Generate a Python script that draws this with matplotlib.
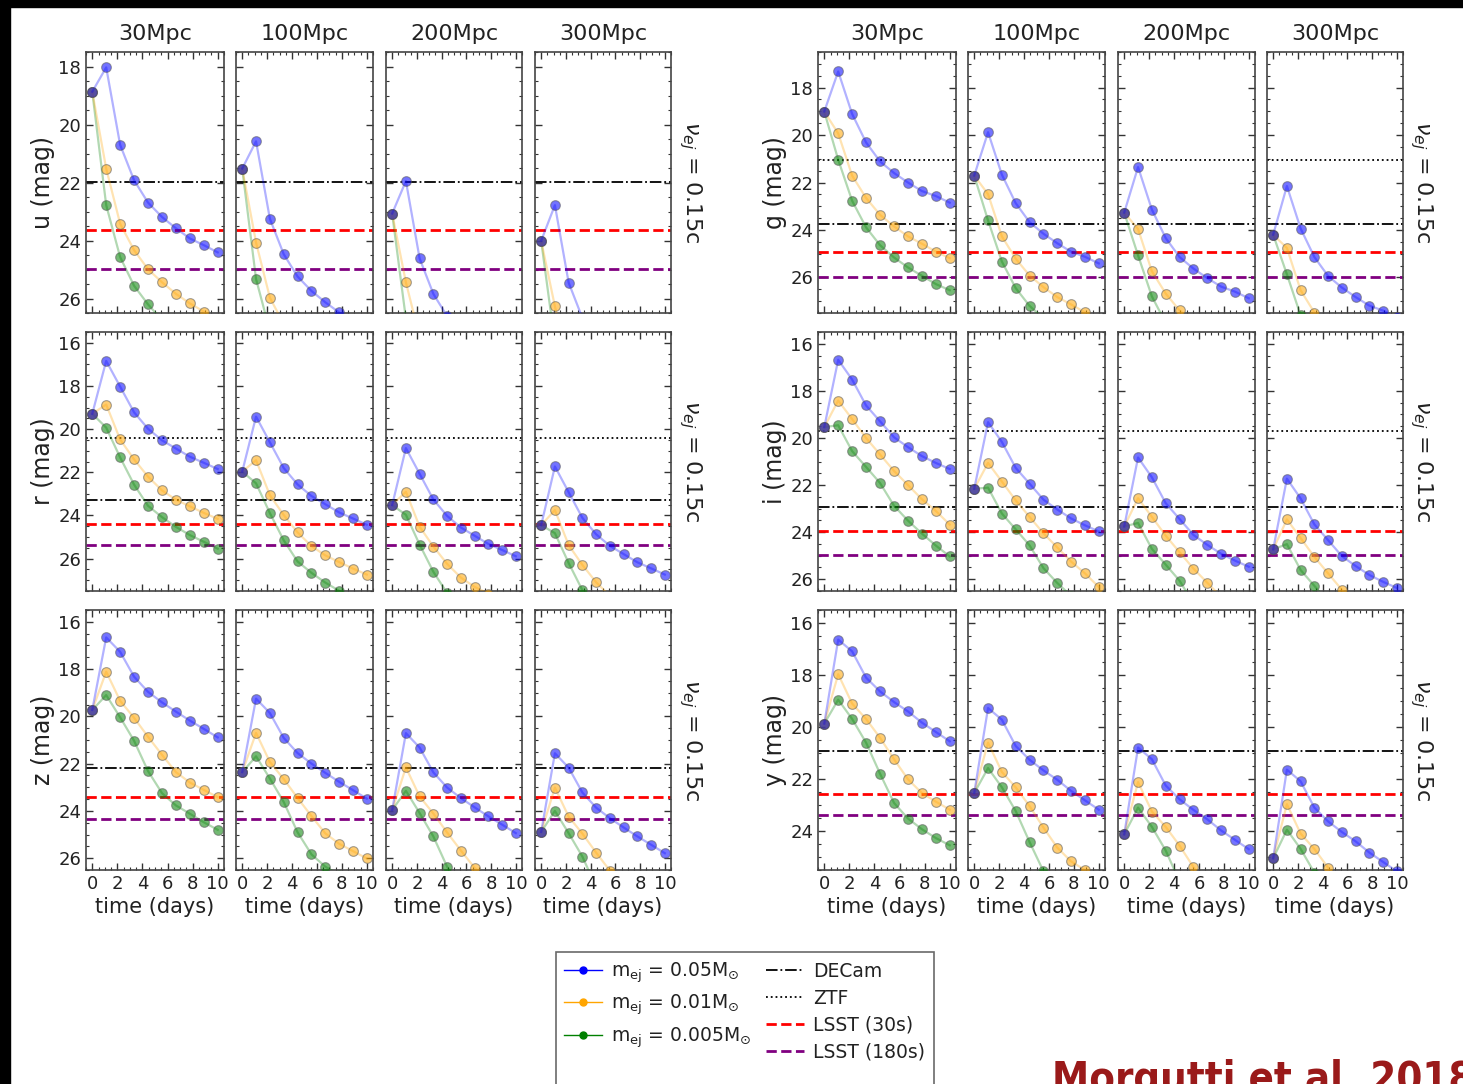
import matplotlib
matplotlib.use("Agg")
import matplotlib.pyplot as plt
from matplotlib.ticker import MultipleLocator
from matplotlib.lines import Line2D
from matplotlib.patches import Rectangle

# ---------------- data ----------------
t_days = [0.0, 1.11, 2.22, 3.33, 4.44, 5.56, 6.67, 7.78, 8.89, 10.0]
distances = ["30Mpc", "100Mpc", "200Mpc", "300Mpc"]
mass_labels = [r"m$_{\rm ej}$ = 0.05M$_{\odot}$",
               r"m$_{\rm ej}$ = 0.01M$_{\odot}$",
               r"m$_{\rm ej}$ = 0.005M$_{\odot}$"]
survey_labels = ["DECam", "ZTF", "LSST (30s)", "LSST (180s)"]

# magnitudes at 30 Mpc for the three ejecta masses
u_m005 = [18.87, 18.03, 20.70, 21.92, 22.69, 23.19, 23.58, 23.93, 24.16, 24.41]
u_m001 = [18.87, 21.52, 23.42, 24.33, 24.99, 25.44, 25.84, 26.17, 26.45, 26.75]
u_m0005 = [18.87, 22.78, 24.57, 25.56, 26.20, 26.75, 27.20, 27.60, 27.95, 28.30]
u_first = [18.87, 21.52, 23.07, 24.01]      # t=0 point per distance
u_shift = [0.0, 2.55, 3.92, 4.75]           # offset per distance
u_limits = [21.99, None, 23.65, 24.97]      # DECam, ZTF, LSST30, LSST180

g_m005 = [19.01, 17.32, 19.11, 20.31, 21.11, 21.60, 22.00, 22.36, 22.57, 22.85]
g_m001 = [19.01, 19.93, 21.71, 22.65, 23.36, 23.85, 24.27, 24.58, 24.91, 25.19]
g_m0005 = [19.01, 21.04, 22.77, 23.89, 24.64, 25.16, 25.58, 25.93, 26.28, 26.54]
g_first = [19.01, 21.71, 23.27, 24.20]
g_shift = [0.0, 2.56, 4.03, 4.83]
g_limits = [23.74, 21.04, 24.91, 26.00]

r_m005 = [19.29, 16.84, 18.03, 19.22, 19.98, 20.52, 20.90, 21.28, 21.56, 21.85]
r_m001 = [19.29, 18.86, 20.48, 21.40, 22.20, 22.84, 23.27, 23.58, 23.88, 24.16]
r_m0005 = [19.29, 19.93, 21.31, 22.57, 23.55, 24.08, 24.53, 24.91, 25.22, 25.54]
r_first = [19.29, 21.97, 23.52, 24.45]
r_shift = [0.0, 2.58, 4.04, 4.89]
r_limits = [23.29, 20.41, 24.39, 25.38]

i_m005 = [19.54, 16.68, 17.52, 18.62, 19.29, 19.97, 20.39, 20.77, 21.06, 21.32]
i_m001 = [19.54, 18.41, 19.20, 20.00, 20.70, 21.40, 22.00, 22.60, 23.10, 23.68]
i_m0005 = [19.54, 19.46, 20.56, 21.23, 21.91, 22.88, 23.51, 24.06, 24.57, 25.03]
i_first = [19.54, 22.16, 23.76, 24.73]
i_shift = [0.0, 2.65, 4.15, 5.05]
i_limits = [22.92, 19.71, 23.97, 24.99]

z_m005 = [19.73, 16.66, 17.27, 18.32, 18.96, 19.41, 19.80, 20.18, 20.53, 20.89]
z_m001 = [19.73, 18.11, 19.34, 20.06, 20.86, 21.63, 22.36, 22.80, 23.11, 23.42]
z_m0005 = [19.73, 19.10, 20.04, 21.03, 22.31, 23.25, 23.77, 24.12, 24.48, 24.80]
z_first = [19.73, 22.36, 23.96, 24.89]
z_shift = [0.0, 2.59, 4.05, 4.90]
z_limits = [22.19, None, 23.42, 24.36]

y_m005 = [19.87, 16.64, 17.09, 18.10, 18.63, 19.04, 19.40, 19.83, 20.19, 20.55]
y_m001 = [19.87, 17.97, 19.10, 19.69, 20.41, 21.24, 22.01, 22.54, 22.87, 23.18]
y_m0005 = [19.87, 18.95, 19.69, 20.60, 21.79, 22.92, 23.52, 23.93, 24.27, 24.55]
y_first = [19.87, 22.54, 24.13, 25.05]
y_shift = [0.0, 2.63, 4.15, 5.00]
y_limits = [20.92, None, 22.56, 23.40]

bands = {
    "u": ([u_m005, u_m001, u_m0005], u_first, u_shift, u_limits, (26.5, 17.5)),
    "g": ([g_m005, g_m001, g_m0005], g_first, g_shift, g_limits, (27.5, 16.5)),
    "r": ([r_m005, r_m001, r_m0005], r_first, r_shift, r_limits, (27.5, 15.5)),
    "i": ([i_m005, i_m001, i_m0005], i_first, i_shift, i_limits, (26.5, 15.5)),
    "z": ([z_m005, z_m001, z_m0005], z_first, z_shift, z_limits, (26.5, 15.5)),
    "y": ([y_m005, y_m001, y_m0005], y_first, y_shift, y_limits, (25.5, 15.5)),
}

# ---------------- styling ----------------
mass_colors = ["blue", "orange", "green"]
survey_styles = [dict(color="black", ls="-.", lw=1.3),
                 dict(color="black", ls=":", lw=1.3),
                 dict(color="red", ls="--", lw=2.0),
                 dict(color="purple", ls="--", lw=2.0)]

W, H = 1463, 1084
fig = plt.figure(figsize=(W / 100, H / 100), dpi=100)
fig.patch.set_facecolor("white")

col_px = [(86, 224), (236, 373), (386, 522), (535, 671),
          (818, 956), (968, 1105), (1118, 1255), (1267, 1403)]
row_px = [(52, 313), (332, 591), (610, 870)]
layout = [["u", "g"], ["r", "i"], ["z", "y"]]

txt_color = "#222222"

for ri, (top, bot) in enumerate(row_px):
    for block in range(2):
        band = layout[ri][block]
        curves, first, shift, limits, ylim = bands[band]
        for di in range(4):
            l, r = col_px[block * 4 + di]
            ax = fig.add_axes([l / W, 1 - bot / H, (r - l) / W, (bot - top) / H])
            # draw smallest mass first so the blue series lies on top
            for mi in reversed(range(len(curves))):
                base = curves[mi]
                mags = [first[di]] + [m + shift[di] for m in base[1:]]
                c = mass_colors[mi]
                zb = 3 + 2 * (len(curves) - mi)
                ax.plot(t_days, mags, "-", color=c, alpha=0.3, lw=1.6, zorder=zb)
                ax.plot(t_days, mags, "o", color=c, ms=7, alpha=0.55,
                        mec="0.35", mew=0.8, zorder=zb + 1)
            for lim, sty in zip(limits, survey_styles):
                if lim is not None:
                    ax.axhline(lim, zorder=2, **sty)
            ax.set_xlim(-0.5, 10.5)
            ax.set_ylim(*ylim)
            ax.xaxis.set_major_locator(MultipleLocator(2))
            ax.xaxis.set_minor_locator(MultipleLocator(0.5))
            ax.yaxis.set_major_locator(MultipleLocator(2))
            ax.yaxis.set_minor_locator(MultipleLocator(0.5))
            ax.tick_params(which="both", direction="in", top=True, right=True,
                           colors="#333333", labelcolor=txt_color, labelsize=13)
            ax.tick_params(which="major", length=5, width=1)
            ax.tick_params(which="minor", length=2.5, width=0.8)
            for s in ax.spines.values():
                s.set_color("#444444")
                s.set_linewidth(1.2)
            if di > 0:
                ax.set_yticklabels([])
            else:
                ax.set_ylabel(f"{band} (mag)", fontsize=17, color=txt_color, labelpad=2)
            if ri < 2:
                ax.set_xticklabels([])
            else:
                ax.set_xlabel("time (days)", fontsize=15, color=txt_color, labelpad=3)
            if ri == 0:
                ax.set_title(distances[di], fontsize=16, color=txt_color, pad=9)
        # velocity annotation
        xr = 690 if block == 0 else 1421
        fig.text(xr / W, 1 - (top + bot) / 2 / H, r"$\nu_{ej}$ = 0.15c", rotation=270,
                 ha="center", va="center", fontsize=16, color=txt_color)

# ---------------- legend ----------------
blank = Line2D([], [], color="none")
handles = [Line2D([], [], color=c, marker="o", ms=5, lw=1) for c in mass_colors]
handles += [blank, blank]
handles += [Line2D([], [], **sty) for sty in survey_styles]
handles += [blank]
labels = mass_labels + ["", ""] + survey_labels + [""]
leg = fig.legend(handles, labels, ncol=2, loc="upper left",
                 bbox_to_anchor=(556 / W, 1 - 952 / H), borderaxespad=0.0,
                 fontsize=13.5, frameon=True, fancybox=False, handlelength=2.0,
                 labelspacing=0.42, columnspacing=0.8, borderpad=0.45,
                 handletextpad=0.5)
leg.get_frame().set_edgecolor("#444444")
leg.get_frame().set_linewidth(1.2)
for tx in leg.get_texts():
    tx.set_color(txt_color)

# ---------------- citation and frame ----------------
fig.text(1052 / W, 1 - 1092 / H, "Morgutti et al. 2018", color="#9a1a1a",
         fontsize=30, fontweight="heavy", fontstretch="condensed",
         ha="left", va="baseline")
fig.patches.append(Rectangle((0, 1 - 7 / H), 1, 7 / H, transform=fig.transFigure,
                             color="black", zorder=10))
fig.patches.append(Rectangle((0, 0), 10 / W, 1, transform=fig.transFigure,
                             color="black", zorder=10))

fig.savefig("out.png", dpi=100)
